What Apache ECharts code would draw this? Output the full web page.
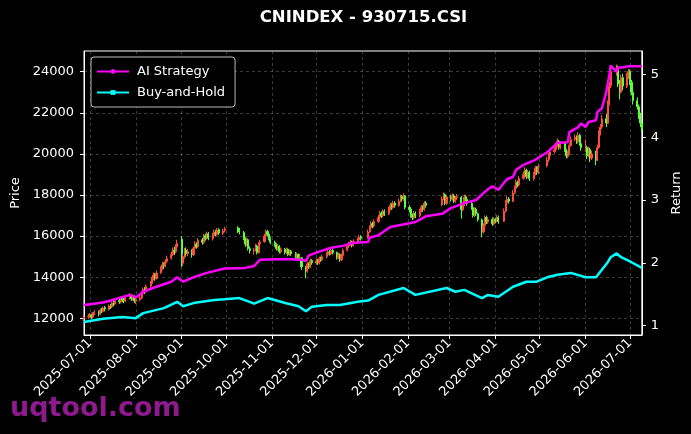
<!DOCTYPE html>
<html><head><meta charset="utf-8">
<script src="https://cdn.jsdelivr.net/npm/echarts@6/dist/echarts.min.js"></script>
<style>html,body{margin:0;padding:0;background:#000;}#c{width:691px;height:434px;}</style>
</head><body><div id="c"></div>
<script>
const chartTitle = 'CNINDEX - 930715.CSI';
const watermark = 'uqtool.com';
// candles per month: [day, open, close, low, high]
const jun2025 = [[27,12000,12050,11900,12150],[30,12080,12100,11980,12220]];
const jul2025 = [[1,12120,12150,12020,12260],[2,12170,12050,11960,12230],[3,12060,12250,12000,12320],[4,12230,12300,12150,12400],[7,12320,12200,12100,12380],[8,12210,12400,12150,12480],[9,12420,12350,12250,12500],[10,12340,12500,12280,12580],[11,12520,12450,12330,12600],[14,12430,12600,12380,12680],[15,12620,12550,12450,12700],[16,12560,12750,12500,12830],[17,12770,12700,12580,12850],[18,12690,12850,12640,12950],[21,12870,12800,12700,12960],[22,12790,12950,12720,13050],[23,12970,12900,12780,13080],[24,12910,12850,12730,13000],[25,12840,13000,12780,13100],[28,13020,13100,12920,13220],[29,13120,12950,12850,13180],[30,12940,13050,12860,13150],[31,13070,12850,12750,13120]];
const aug2025 = [[1,12830,12900,12700,13020],[4,12920,13000,12830,13120],[5,12990,13200,12930,13300],[6,13220,13400,13150,13500],[7,13420,13300,13180,13520],[8,13290,13550,13250,13650],[11,13570,13700,13480,13820],[12,13690,13900,13620,14000],[13,13920,14100,13850,14230],[14,14120,13950,13820,14200],[15,13940,14200,13880,14320],[18,14220,14400,14150,14530],[19,14420,14600,14350,14750],[20,14620,14550,14400,14720],[21,14540,14750,14480,14880],[22,14770,14900,14680,15050],[25,14920,15100,14850,15250],[26,15120,15300,15030,15450],[27,15320,15250,15080,15480],[28,15240,15450,15180,15600],[29,15470,15650,15400,15820]];
const sep2025 = [[1,15850,14700,14500,16000],[2,14680,15000,14550,15150],[3,15020,15300,14900,15420],[4,15320,15150,15000,15450],[5,15140,15250,15020,15380],[8,15270,15100,14950,15350],[9,15090,15400,15020,15500],[10,15420,15600,15330,15750],[11,15620,15500,15380,15700],[12,15490,15800,15430,15900],[15,15820,15700,15580,15920],[16,15690,16000,15620,16100],[17,16020,15900,15780,16120],[18,15890,16100,15830,16220],[19,16120,15900,15800,16200],[22,15880,16000,15780,16150],[23,16020,16200,15950,16320],[24,16220,16100,15980,16300],[25,16090,16300,16030,16400],[26,16320,16150,16050,16380],[29,16140,16250,16050,16360],[30,16270,16350,16180,16450]];
const oct2025 = [[9,16400,16300,16150,16480],[10,16290,16200,16080,16400],[13,16180,15900,15800,16250],[14,15880,15600,15480,15950],[15,15620,15800,15520,15900],[16,15820,15400,15300,15880],[17,15390,15300,15150,15500],[20,15280,15300,15100,15420],[21,15320,15500,15250,15620],[22,15510,15200,15100,15580],[23,15190,15600,15150,15700],[24,15620,15700,15520,15820],[27,15720,16000,15680,16100],[28,16020,16200,15950,16320],[29,16220,16100,15980,16300],[30,16090,15900,15800,16150],[31,15880,15700,15600,15950]];
const nov2025 = [[3,15690,15600,15480,15780],[4,15590,15400,15300,15650],[5,15390,15500,15300,15620],[6,15510,15250,15150,15560],[7,15240,15350,15150,15450],[10,15360,15200,15100,15420],[11,15190,15350,15120,15450],[12,15360,15100,15020,15400],[13,15090,15250,15020,15350],[14,15260,15150,15050,15330],[17,15140,15000,14900,15220],[18,14990,15100,14900,15200],[19,15110,14900,14800,15150],[20,14890,14950,14780,15060],[21,14940,14500,14350,14980],[24,14480,14300,13950,14550],[25,14290,14650,14220,14750],[26,14660,14500,14400,14720],[27,14490,14800,14430,14900],[28,14810,14700,14600,14880]];
const dec2025 = [[1,14690,14800,14600,14920],[2,14810,14700,14600,14880],[3,14690,14900,14620,15000],[4,14910,14850,14750,15000],[5,14840,15000,14780,15100],[8,15010,15100,14930,15220],[9,15110,15250,15050,15380],[10,15260,15150,15050,15320],[11,15140,15300,15080,15420],[12,15310,15200,15100,15380],[15,15190,14950,14850,15250],[16,14940,15100,14880,15200],[17,15110,14850,14750,15150],[18,14840,15050,14780,15150],[19,15060,15300,15000,15400],[22,15310,15500,15250,15600],[23,15510,15600,15420,15720],[24,15610,15700,15530,15820],[25,15710,15550,15450,15780],[26,15540,15750,15480,15850],[29,15760,15800,15650,15920],[30,15810,15950,15730,16060],[31,15960,15900,15780,16050]];
const jan2026 = [[5,15920,16200,15880,16320],[6,16210,16400,16150,16520],[7,16420,16600,16350,16720],[8,16610,16500,16380,16700],[9,16490,16700,16420,16820],[12,16710,16900,16650,17020],[13,16920,17100,16850,17230],[14,17120,17000,16880,17200],[15,16990,17200,16920,17320],[16,17210,17100,16980,17300],[19,17090,17300,17020,17420],[20,17310,17500,17250,17620],[21,17520,17400,17280,17600],[22,17390,17600,17330,17720],[23,17610,17500,17380,17700],[26,17490,17700,17430,17820],[27,17710,17900,17650,18020],[28,17920,17800,17680,18000],[29,17790,17950,17720,18080],[30,17960,17400,17300,18000]];
const feb2026 = [[2,17390,17300,17150,17500],[3,17310,17000,16900,17400],[4,16990,16900,16780,17100],[5,16890,17100,16820,17220],[6,17110,17000,16880,17200],[9,16990,17200,16920,17320],[10,17210,17400,17150,17520],[11,17410,17300,17180,17500],[12,17290,17600,17230,17700],[13,17610,17500,17380,17700],[24,17520,17800,17450,17920],[25,17810,18000,17750,18120],[26,18020,17600,17500,18080],[27,17590,17900,17520,18000]];
const mar2026 = [[2,17910,17800,17680,18020],[3,17790,17950,17720,18080],[4,17960,17700,17600,18050],[5,17690,17850,17620,17950],[6,17860,17900,17750,18050],[9,17890,17300,16850,17950],[10,17290,17500,17220,17620],[11,17510,17900,17450,18020],[12,17910,17800,17680,18000],[13,17790,17600,17480,17880],[16,17590,17400,17280,17700],[17,17390,17000,16900,17450],[18,16990,17300,16920,17400],[19,17310,17100,16980,17380],[20,17090,16800,16700,17150],[23,16790,16200,15950,16850],[24,16210,16500,16120,16620],[25,16510,16900,16450,17000],[26,16910,16700,16580,17000],[27,16690,16800,16600,16920],[30,16810,16600,16500,16900],[31,16590,16800,16520,16920]];
const apr2026 = [[1,16810,16750,16620,16900],[2,16740,16900,16680,17020],[3,16910,16700,16600,17000],[7,16720,17200,16680,17350],[8,17220,17600,17150,17750],[9,17620,17800,17550,17950],[10,17810,17700,17580,17900],[13,17690,18100,17650,18250],[14,18120,18300,18050,18450],[15,18320,18600,18250,18750],[16,18610,18500,18380,18700],[17,18490,18800,18420,18920],[20,18810,19000,18750,19150],[21,19020,19200,18950,19350],[22,19210,18900,18780,19280],[23,18890,19100,18820,19220],[24,19110,18800,18680,19180],[27,18790,19000,18700,19120],[28,19010,19300,18950,19420],[29,19310,19100,18980,19400],[30,19090,19400,19020,19520]];
const may2026 = [[6,19420,19700,19350,19850],[7,19710,19900,19620,20050],[8,19910,20100,19850,20250],[11,20110,20200,20020,20330],[12,20210,20400,20150,20550],[13,20410,20600,20350,20750],[14,20610,20300,20200,20680],[15,20290,20500,20220,20620],[18,20510,20200,20100,20580],[19,20190,19900,19780,20250],[20,19890,20000,19800,20150],[21,20010,20400,19950,20520],[22,20410,20700,20350,20850],[25,20710,20800,20620,20950],[26,20810,20600,20480,20900],[27,20590,20900,20520,21050],[28,20910,20500,20400,20980],[29,20490,20300,20150,20600]];
const jun2026 = [[1,20290,20300,20100,20700],[2,20310,19900,19750,20400],[3,19890,20200,19820,20350],[4,20210,19800,19600,20300],[5,19790,20000,19700,20150],[8,20010,19700,19450,20150],[9,19690,20300,19650,20450],[10,20310,21000,20250,21150],[11,21010,21300,20900,21450],[12,21310,21700,21200,21900],[15,21710,21500,21300,21950],[16,21490,22400,21450,22600],[17,22410,23300,22350,23500],[18,23310,24000,23200,24250],[22,24010,24200,23800,24350],[23,24190,23400,23250,24300],[24,23390,23000,22650,23600],[25,23010,23700,22950,23850],[26,23710,23300,23100,23900],[29,23290,23800,23200,23950],[30,23810,24000,23650,24150]];
const jul2026 = [[1,24010,23500,23350,24100],[2,23490,23000,22850,23600],[3,22990,22600,22400,23150],[6,22590,22300,22150,22750],[7,22290,21900,21700,22400],[8,21890,21500,21300,22000],[9,21490,21200,21050,21600]];
const candleMonths = [['2025-06',jun2025],['2025-07',jul2025],['2025-08',aug2025],['2025-09',sep2025],['2025-10',oct2025],['2025-11',nov2025],['2025-12',dec2025],['2026-01',jan2026],['2026-02',feb2026],['2026-03',mar2026],['2026-04',apr2026],['2026-05',may2026],['2026-06',jun2026],['2026-07',jul2026]];

const aiDates = ['2025-06-27','2025-07-10','2025-07-18','2025-07-28','2025-08-01','2025-08-06','2025-08-15','2025-08-25','2025-08-29','2025-09-02','2025-09-09','2025-09-18','2025-09-30','2025-10-14','2025-10-20','2025-10-21','2025-10-24','2025-11-10','2025-11-21','2025-11-24','2025-11-26','2025-12-02','2025-12-11','2025-12-19','2025-12-26','2026-01-05','2026-01-06','2026-01-12','2026-01-20','2026-02-02','2026-02-06','2026-02-13','2026-02-24','2026-02-25','2026-03-02','2026-03-11','2026-03-19','2026-03-24','2026-03-27','2026-03-30','2026-04-01','2026-04-03','2026-04-07','2026-04-09','2026-04-13','2026-04-15','2026-04-20','2026-04-28','2026-05-06','2026-05-13','2026-05-20','2026-05-21','2026-05-27','2026-05-29','2026-06-01','2026-06-03','2026-06-08','2026-06-09','2026-06-12','2026-06-15','2026-06-16','2026-06-17','2026-06-18','2026-06-22','2026-06-23','2026-06-26','2026-06-30','2026-07-09'];
const aiValues = [1.33,1.37,1.42,1.49,1.45,1.54,1.62,1.70,1.77,1.70,1.77,1.84,1.91,1.92,1.95,1.97,2.05,2.06,2.05,2.03,2.12,2.17,2.24,2.27,2.32,2.33,2.40,2.44,2.57,2.63,2.65,2.74,2.78,2.79,2.87,2.95,3.00,3.11,3.17,3.22,3.19,3.16,3.28,3.33,3.37,3.48,3.56,3.64,3.76,3.91,3.92,4.08,4.16,4.22,4.16,4.24,4.27,4.40,4.46,4.72,4.85,4.98,5.14,5.04,5.11,5.11,5.13,5.13];
const bhDates = ['2025-06-27','2025-07-10','2025-07-23','2025-08-01','2025-08-06','2025-08-20','2025-08-29','2025-09-02','2025-09-09','2025-09-23','2025-09-30','2025-10-10','2025-10-20','2025-10-29','2025-11-10','2025-11-19','2025-11-24','2025-11-28','2025-12-08','2025-12-17','2025-12-29','2026-01-05','2026-01-09','2026-01-12','2026-01-29','2026-02-06','2026-02-27','2026-03-05','2026-03-11','2026-03-23','2026-03-27','2026-04-03','2026-04-13','2026-04-22','2026-04-29','2026-05-06','2026-05-13','2026-05-22','2026-06-01','2026-06-08','2026-06-16','2026-06-18','2026-06-22','2026-06-25','2026-07-02','2026-07-09'];
const bhValues = [1.06,1.11,1.14,1.12,1.20,1.28,1.38,1.31,1.36,1.41,1.42,1.44,1.35,1.44,1.36,1.31,1.23,1.30,1.33,1.33,1.38,1.40,1.45,1.49,1.60,1.49,1.60,1.54,1.57,1.44,1.49,1.46,1.62,1.70,1.70,1.77,1.81,1.84,1.77,1.77,2.01,2.09,2.15,2.09,2.01,1.92];

const monthTicks = ['2025-07-01','2025-08-01','2025-09-01','2025-10-01','2025-11-01','2025-12-01','2026-01-01','2026-02-01','2026-03-01','2026-04-01','2026-05-01','2026-06-01','2026-07-01'];
const priceTicks = [12000,14000,16000,18000,20000,22000,24000];
const returnTicks = [1,2,3,4,5];
const xRange = ['2025-06-27','2026-07-09'];

function ts(s){ const p = s.split('-').map(Number); return new Date(p[0], p[1]-1, p[2]).getTime(); }
function pad(n){ return (n<10?'0':'')+n; }
function fmt(v){ const d = new Date(v); return d.getFullYear()+'-'+pad(d.getMonth()+1)+'-'+pad(d.getDate()); }

const candleData = [];
candleMonths.forEach(function(m){ m[1].forEach(function(r){ candleData.push([ts(m[0]+'-'+pad(r[0])), r[1], r[2], r[3], r[4]]); }); });
const aiData = aiDates.map(function(d,i){ return [ts(d), aiValues[i]]; });
const bhData = bhDates.map(function(d,i){ return [ts(d), bhValues[i]]; });

const FONT = 'DejaVu Sans';
const UP = '#ff4d3a', DOWN = '#5cff3a';
const gridLine = { show: true, lineStyle: { color: 'rgba(150,150,150,0.5)', width: 0.8, type: [3, 3] } };

const chart = echarts.init(document.getElementById('c'), null, { renderer: 'canvas' });
chart.setOption({
  backgroundColor: '#000',
  animation: false,
  textStyle: { fontFamily: FONT },
  grid: { left: 84, right: 48, top: 51, bottom: 99, show: true, borderColor: '#fff', borderWidth: 1, backgroundColor: 'transparent' },
  graphic: [
    { type: 'text', x: 363.5, y: 18.2, z: 50, style: { text: chartTitle, fill: '#fff', font: 'bold 16.5px ' + FONT, textAlign: 'center', textVerticalAlign: 'middle', verticalAlign: 'middle' } },
    { type: 'text', x: 10, y: 395, z: 100, style: { text: watermark, fill: '#8e1a8e', font: 'bold 27px ' + FONT } }
  ],
  legend: {
    data: ['AI Strategy', 'Buy-and-Hold'],
    orient: 'vertical', left: 91, top: 57,
    padding: [7, 10, 7, 5], itemGap: 6, itemWidth: 32, itemHeight: 6,
    backgroundColor: '#000', borderColor: '#bbb', borderWidth: 1, borderRadius: 3,
    textStyle: { color: '#fff', fontSize: 13, fontFamily: FONT, padding: [0, 0, 0, 3], lineHeight: 15 }
  },
  xAxis: {
    type: 'value', min: ts(xRange[0]), max: ts(xRange[1]), scale: true,
    axisLine: { show: true, lineStyle: { color: '#fff', width: 1 } },
    axisTick: { show: true, length: 4, lineStyle: { color: '#fff' }, customValues: monthTicks.map(ts) },
    axisLabel: { color: '#fff', fontSize: 13, fontFamily: FONT, rotate: 45, margin: 6, customValues: monthTicks.map(ts), formatter: fmt },
    splitLine: gridLine
  },
  yAxis: [
    {
      type: 'value', position: 'left', min: 11187, max: 25007,
      name: 'Price', nameLocation: 'middle', nameGap: 57, nameRotate: 90,
      nameTextStyle: { color: '#fff', fontSize: 13, fontFamily: FONT },
      axisLine: { show: true, lineStyle: { color: '#fff', width: 1 } },
      axisTick: { show: true, length: 4, lineStyle: { color: '#fff' }, customValues: priceTicks },
      axisLabel: { color: '#fff', fontSize: 13, fontFamily: FONT, margin: 10, customValues: priceTicks, formatter: function(v){ return String(v); } },
      splitLine: gridLine
    },
    {
      type: 'value', position: 'right', min: 0.852, max: 5.371,
      name: 'Return', nameLocation: 'middle', nameGap: 22, nameRotate: 90,
      nameTextStyle: { color: '#fff', fontSize: 13, fontFamily: FONT },
      axisLine: { show: true, lineStyle: { color: '#fff', width: 1 } },
      axisTick: { show: true, length: 4, lineStyle: { color: '#fff' }, customValues: returnTicks },
      axisLabel: { color: '#fff', fontSize: 13, fontFamily: FONT, margin: 9, customValues: returnTicks, formatter: function(v){ return String(v); } },
      splitLine: { show: false }
    }
  ],
  series: [
    {
      name: 'Price', type: 'candlestick', xAxisIndex: 0, yAxisIndex: 0,
      data: candleData, encode: { x: 0, y: [1, 2, 3, 4] },
      barWidth: 1.6,
      itemStyle: { color: UP, color0: DOWN, borderColor: UP, borderColor0: DOWN, borderWidth: 1 }
    },
    {
      name: 'AI Strategy', type: 'line', yAxisIndex: 1, data: aiData,
      symbol: 'circle', symbolSize: 5, showSymbol: false,
      itemStyle: { color: '#ff00ff' }, lineStyle: { color: '#ff00ff', width: 2.5 }, z: 5
    },
    {
      name: 'Buy-and-Hold', type: 'line', yAxisIndex: 1, data: bhData,
      symbol: 'rect', symbolSize: 5, showSymbol: false,
      itemStyle: { color: '#00ffff' }, lineStyle: { color: '#00ffff', width: 2.5 }, z: 5
    }
  ]
});
</script>
</body></html>
